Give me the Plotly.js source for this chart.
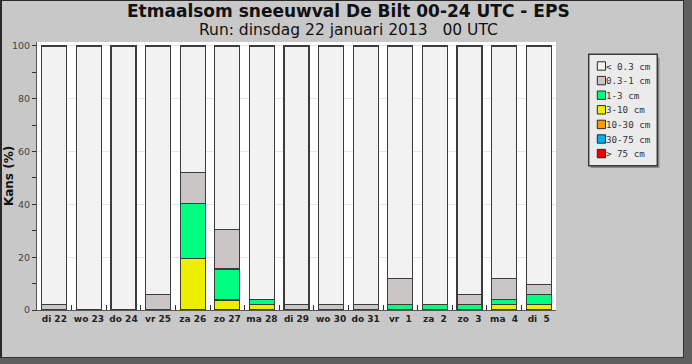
<!DOCTYPE html>
<html>
<head>
<meta charset="utf-8">
<script src="https://cdn.plot.ly/plotly-3.0.1.min.js"></script>
<style>
html,body{margin:0;padding:0;background:#5f5f5f;}
#outer{position:relative;width:692px;height:364px;background:#5f5f5f;overflow:hidden;}
#frame{position:absolute;left:0;top:0;width:684px;height:358px;box-sizing:border-box;
  border-left:2px solid #2a2a2a;border-top:1px solid #2a2a2a;border-right:1px solid #333;border-bottom:1px solid #333;background:#c8c8c8;}
#chart{width:681px;height:356px;}
</style>
</head>
<body>
<div id="outer"><div id="frame"><div id="chart"></div></div></div>
<script>
// Tick labels / categories
const categories = ['di 22','wo 23','do 24','vr 25','za 26','zo 27','ma 28','di 29','wo 30','do 31',
  'vr\u00a0\u00a01','za\u00a0\u00a02','zo\u00a0\u00a03','ma\u00a0\u00a04','di\u00a0\u00a05'];

// Probability (%) per snowfall class, per day
const gt75    = [0,0,0,0,0,0,0,0,0,0,0,0,0,0,0];
const p30_75  = [0,0,0,0,0,0,0,0,0,0,0,0,0,0,0];
const p10_30  = [0,0,0,0,0,0,0,0,0,0,0,0,0,0,0];
const p3_10   = [0,0,0,0,19.6,3.8,2,0,0,0,0,0,0,2,2];
const p1_3    = [0,0,0,0,20.6,11.7,2,0,0,0,2,2,2,2,3.9];
const p03_1   = [2,0,0,5.9,11.8,15.1,0,2,2,2,9.8,0,3.9,7.8,3.9];
const lt03    = [98,100,100,94.1,48,69.4,96,98,98,98,88.2,98,94.1,88.2,90.2];

// Classes, bottom of stack first
const classNames  = ['&gt; 75 cm','30-75 cm','10-30 cm','3-10 cm','1-3 cm','0.3-1 cm','&lt; 0.3 cm'];
const classValues = [gt75, p30_75, p10_30, p3_10, p1_3, p03_1, lt03];
const classColors = ['#ee0000','#00b0f0','#ff9900','#eeee00','#00ff80','#cbc6c6','#f2f2f2'];

const traces = classNames.map((name, i) => ({
  type: 'bar',
  name: name,
  x: categories,
  y: classValues[i],
  marker: {color: classColors[i], line: {color: '#3c3c3c', width: 1.2}},
  showlegend: false,
  hoverinfo: 'x+y+name'
}));

// plot-area geometry (pixels inside the chart div) for placing the legend box
const M = {l: 35, r: 127, t: 41, b: 47};
const W = 681 - M.l - M.r, H = 356 - M.t - M.b;
const px = x => (x - M.l) / W;
const py = y => 1 - (y - M.t) / H;

const shapes = [
  {type: 'rect', xref: 'paper', yref: 'paper', x0: px(588.7), x1: px(657.5), y0: py(56.5), y1: py(167),
   fillcolor: '#8a8a8a', line: {width: 0}},
  {type: 'rect', xref: 'paper', yref: 'paper', x0: px(586.7), x1: px(655.3), y0: py(53.3), y1: py(164.7),
   fillcolor: '#ebebeb', line: {color: '#3a3a3a', width: 1.5}}
];
const annotations = [
  {text: '<b>Etmaalsom sneeuwval De Bilt 00-24 UTC - EPS</b>', xref: 'paper', yref: 'paper',
   x: px(346), y: py(10.5), xanchor: 'center', yanchor: 'middle', showarrow: false, borderpad: 0,
   font: {family: 'DejaVu Sans, Verdana, sans-serif', size: 17, color: '#111'}},
  {text: 'Run: dinsdag 22 januari 2013\u00a0\u00a0\u00a000 UTC', xref: 'paper', yref: 'paper',
   x: px(346), y: py(29), xanchor: 'center', yanchor: 'middle', showarrow: false, borderpad: 0,
   font: {family: 'DejaVu Sans, sans-serif', size: 15.5, color: '#111'}}
];
// legend entries, top entry = top of stack
const legendOrder = classNames.map((_, i) => classNames.length - 1 - i);
legendOrder.forEach((ci, row) => {
  const yc = 65 + row * 14.6;
  shapes.push({type: 'rect', xref: 'paper', yref: 'paper',
    x0: px(595.3), x1: px(603.5), y0: py(yc - 4.2), y1: py(yc + 4.2),
    fillcolor: classColors[ci], line: {color: '#2a2a2a', width: 1}});
  annotations.push({text: classNames[ci], xref: 'paper', yref: 'paper',
    x: px(602.8), y: py(yc), xanchor: 'left', yanchor: 'middle', showarrow: false, borderpad: 0,
    font: {family: 'DejaVu Sans Mono, monospace', size: 9.2, color: '#333'}});
});

const layout = {
  width: 681, height: 356,
  margin: {l: M.l, r: M.r, t: M.t, b: M.b, pad: 0},
  paper_bgcolor: '#c8c8c8',
  plot_bgcolor: '#ffffff',
  barmode: 'stack',
  bargap: 0.28,
  showlegend: false,
  font: {family: 'DejaVu Sans, Verdana, sans-serif', size: 10, color: '#333'},
  xaxis: {
    type: 'category', tickangle: 0,
    showline: true, linecolor: '#555', linewidth: 1,
    ticks: 'inside', tickson: 'boundaries', ticklen: 5, tickcolor: '#333', tickwidth: 1,
    tickfont: {family: 'DejaVu Sans, Verdana, sans-serif', size: 9, weight: 'bold', color: '#222'},
    showgrid: false, fixedrange: true
  },
  yaxis: {
    range: [0, 101.5], tick0: 0, dtick: 20,
    showline: true, linecolor: '#555', linewidth: 1,
    ticks: 'outside', ticklen: 4, tickcolor: '#333',
    minor: {dtick: 10, ticks: 'outside', ticklen: 4, tickcolor: '#333', showgrid: false},
    showgrid: true, gridcolor: '#e6e6e6', zeroline: false,
    tickfont: {family: 'DejaVu Sans, Verdana, sans-serif', size: 9.5, color: '#444'},
    title: {text: 'Kans (%)', font: {family: 'DejaVu Sans, Verdana, sans-serif', size: 12, weight: 'bold', color: '#111'}, standoff: 8},
    fixedrange: true
  },
  shapes: shapes,
  annotations: annotations
};

Plotly.newPlot('chart', traces, layout, {displayModeBar: false, staticPlot: true});
</script>
</body>
</html>
